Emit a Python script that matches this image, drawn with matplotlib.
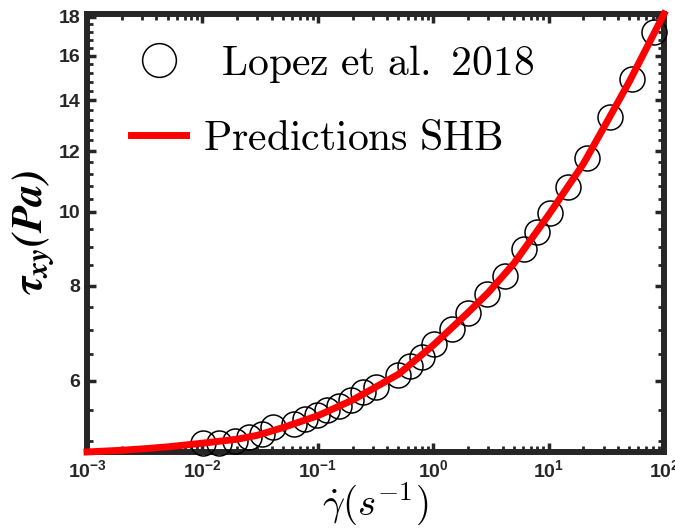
import numpy as np
import matplotlib
matplotlib.use('Agg')
import matplotlib.pyplot as plt
from matplotlib.ticker import FixedLocator, LogLocator, NullFormatter
from matplotlib.font_manager import FontProperties

# measured flow curve (shear rate in 1/s, shear stress in Pa)
shear_rate = [0.01022, 0.01393, 0.01916, 0.02509, 0.03285, 0.0409, 0.0622, 0.07745,
              0.09842, 0.1202, 0.1527, 0.194, 0.2464, 0.3194, 0.4955, 0.6233, 0.7997,
              1.016, 1.446, 2.014, 2.908, 4.19, 6.12, 8.013, 10.28, 14.73, 21.39,
              34.05, 52.5, 81.9]
shear_stress = [4.98, 4.973, 5.006, 5.067, 5.113, 5.222, 5.262, 5.342, 5.415, 5.497,
                5.564, 5.666, 5.795, 5.892, 6.11, 6.268, 6.441, 6.698, 7.009, 7.373,
                7.794, 8.224, 8.936, 9.406, 9.97, 10.77, 11.76, 13.32, 14.93, 17.2]

# SHB model curve
pred_rate = [1e-3, 2e-3, 3e-3, 5e-3, 1e-2, 2e-2, 3e-2, 5e-2, 0.1, 0.2, 0.3, 0.5,
             1, 2, 3, 5, 10, 20, 30, 50, 100]
pred_stress = [4.84, 4.865, 4.885, 4.915, 4.97, 5.03, 5.09, 5.21, 5.40, 5.66, 5.86, 6.12,
               6.68, 7.37, 7.83, 8.55, 9.90, 11.55, 12.88, 14.80, 18.16]

xtick_vals = [1e-3, 1e-2, 1e-1, 1e0, 1e1, 1e2]
xtick_labels = [r'$10^{-3}$', r'$10^{-2}$', r'$10^{-1}$', r'$10^{0}$', r'$10^{1}$', r'$10^{2}$']
ytick_vals = [6, 8, 10, 12, 14, 16, 18]
ytick_labels = ['6', '8', '10', '12', '14', '16', '18']

plt.rcParams['font.family'] = 'Liberation Sans'
plt.rcParams['font.weight'] = 'bold'
plt.rcParams['mathtext.fontset'] = 'custom'
plt.rcParams['mathtext.rm'] = 'Liberation Sans:bold'
plt.rcParams['mathtext.it'] = 'Liberation Sans:bold'
plt.rcParams['mathtext.bf'] = 'Liberation Sans:bold'

axcol = '#262626'

fig = plt.figure(figsize=(6.75, 5.29), dpi=100)
ax = fig.add_axes([0.1289, 0.1456, 0.8548, 0.828])

ax.plot(shear_rate, shear_stress, 'o', ms=18, mfc='none', mec='k', mew=1.1,
        clip_on=False, zorder=3, label=r'$\mathrm{\ \,Lopez\ et\ al.\ 2018}$')
ax.plot(pred_rate, pred_stress, '-', color='red', lw=5, clip_on=False, zorder=4,
        label=r'$\mathrm{Predictions\ SHB}$')

ax.set_xscale('log')
ax.set_yscale('log')
ax.set_xlim(1e-3, 1e2)
ax.set_ylim(4.84, 18.16)

ax.set_xticks(xtick_vals)
ax.set_xticklabels(xtick_labels)
ax.xaxis.set_minor_locator(LogLocator(base=10, subs=np.arange(2, 10)))
ax.xaxis.set_minor_formatter(NullFormatter())

ax.set_yticks(ytick_vals)
ax.set_yticklabels(ytick_labels)
ax.yaxis.set_minor_locator(FixedLocator(list(np.arange(5, 10, 0.5)) + list(np.arange(10.4, 18, 0.4))))
ax.yaxis.set_minor_formatter(NullFormatter())

for s in ax.spines.values():
    s.set_linewidth(4.3)
    s.set_color(axcol)

ax.tick_params(which='both', direction='in', top=True, right=True, color=axcol,
               labelcolor=axcol, labelsize=14)
ax.tick_params(which='major', length=6.5, width=2.5, pad=5)
ax.tick_params(which='minor', length=4.3, width=2.0)
for lab in ax.get_xticklabels() + ax.get_yticklabels():
    lab.set_fontweight('bold')

ax.set_xlabel(r'$\dot{\gamma}(s^{-1})$', fontsize=28, math_fontfamily='cm', labelpad=0)
ax.set_ylabel(r'$\mathbfit{\tau_{xy}(Pa)}$', fontsize=31, math_fontfamily='stix', labelpad=2)

ax.legend(loc='upper left', bbox_to_anchor=(0.012, 1.02), frameon=False,
          prop=FontProperties(size=30, math_fontfamily='cm'),
          handlelength=1.3, handletextpad=0.42, markerscale=1.35, labelspacing=0.82)

fig.savefig('out.png', dpi=100)
